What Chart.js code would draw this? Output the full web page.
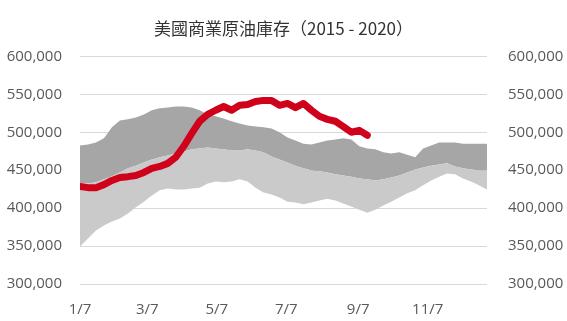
<!DOCTYPE html>
<html>
<head>
<meta charset="utf-8">
<script src="https://cdn.jsdelivr.net/npm/chart.js@4"></script>
<style>
  html, body { margin: 0; padding: 0; background: #fff; }
  #wrap { width: 567px; height: 321px; }
</style>
</head>
<body>
<div id="wrap"><canvas id="stockChart" width="567" height="321"></canvas></div>
<script>
// weekly commercial crude stocks, week 0 = 1/7
const rangeMax = [482500, 484000, 486500, 492000, 506500, 515500, 517000, 519500, 523500, 529000,
    531500, 532500, 534000, 534000, 532500, 529000, 523500, 521000, 518000, 514500,
    511500, 509000, 507500, 506500, 505000, 500000, 493000, 489000, 485000, 484000,
    486500, 489000, 490500, 492000, 490500, 481500, 478500, 477500, 473500, 472000,
    473500, 470500, 467000, 478500, 482500, 486500, 486500, 486500, 485000, 485000,
    485000, 485000];
const rangeMid = [432500, 432500, 434000, 438000, 442000, 447000, 452500, 456000, 460000, 464000,
    467000, 469500, 472000, 474500, 477500, 478500, 480000, 478500, 477500, 476000,
    476000, 477500, 476000, 473500, 468000, 464000, 460000, 456000, 452500, 449500,
    448500, 447000, 444500, 443000, 441500, 439000, 438000, 436500, 438000, 440500,
    443000, 447000, 451000, 453500, 456000, 457500, 459000, 455000, 452500, 451000,
    449500, 449500];
const rangeMin = [349500, 360000, 370500, 377000, 382500, 386500, 393000, 401000, 408500, 416500,
    423500, 426000, 424500, 424500, 426000, 427000, 432500, 435000, 434000, 435000,
    438000, 435000, 427000, 420500, 418000, 414000, 408500, 407500, 405000, 407500,
    410000, 412500, 410000, 406000, 402000, 398000, 394000, 398000, 403500, 408500,
    414000, 419500, 423500, 430000, 436500, 441500, 445500, 444500, 439000, 435000,
    430000, 424500];
const stocks2020 = [428500, 427000, 427000, 431000, 436500, 440500, 441500, 443000, 447000, 452500,
    455000, 459000, 467000, 481500, 498500, 514500, 523500, 529000, 534000, 529000,
    535500, 536500, 540500, 542000, 542000, 535500, 538000, 532500, 538000, 529000,
    521000, 517000, 514500, 507500, 500000, 502500, 496000];

// tick labels and their day offsets from 1/7
const tickDays = [0, 59, 120, 181, 244, 305];
const tickLabels = ['1/7', '3/7', '5/7', '7/7', '9/7', '11/7'];

const toPoints = arr => arr.map((v, i) => ({ x: i * 7, y: v }));

const labelFont = { family: '"Open Sans", "Noto Sans", sans-serif', size: 15 };
const fmt = v => v.toLocaleString('en-US');

const ctx = document.getElementById('stockChart').getContext('2d');
new Chart(ctx, {
    type: 'line',
    data: {
        datasets: [
            {
                label: '2020',
                data: toPoints(stocks2020),
                borderColor: '#d0021b',
                borderWidth: 7,
                borderCapStyle: 'round',
                borderJoinStyle: 'round',
                pointRadius: 0,
                fill: false,
            },
            {
                label: 'min',
                data: toPoints(rangeMin),
                borderWidth: 0,
                borderColor: 'rgba(0,0,0,0)',
                pointRadius: 0,
                fill: false,
            },
            {
                label: 'mid',
                data: toPoints(rangeMid),
                borderWidth: 0,
                borderColor: 'rgba(0,0,0,0)',
                backgroundColor: '#cacaca',
                pointRadius: 0,
                fill: '-1',
            },
            {
                label: 'max',
                data: toPoints(rangeMax),
                borderWidth: 0,
                borderColor: 'rgba(0,0,0,0)',
                backgroundColor: '#a6a6a6',
                pointRadius: 0,
                fill: '-1',
            },
        ],
    },
    options: {
        responsive: false,
        animation: false,
        layout: { padding: 0 },
        elements: { line: { tension: 0 } },
        plugins: {
            legend: { display: false },
            tooltip: { enabled: false },
            title: {
                display: true,
                text: '美國商業原油庫存（2015 - 2020）',
                color: '#333333',
                font: { family: '"Noto Sans CJK TC", sans-serif', size: 17, weight: 'normal' },
                padding: { top: 18, bottom: 18 },
            },
        },
        scales: {
            x: {
                type: 'linear',
                min: 0,
                max: 357,
                grid: { display: false },
                border: { display: false },
                afterBuildTicks: scale => { scale.ticks = tickDays.map(v => ({ value: v })); },
                afterFit: scale => { scale.height = 37; },
                ticks: {
                    autoSkip: false,
                    maxRotation: 0,
                    padding: 9,
                    color: '#595959',
                    font: labelFont,
                    callback: v => tickLabels[tickDays.indexOf(v)],
                },
            },
            y: {
                position: 'left',
                min: 300000,
                max: 600000,
                grid: { color: '#d9d9d9', drawTicks: false },
                border: { display: false },
                afterFit: scale => { scale.width = 80; },
                ticks: { stepSize: 50000, padding: 18, color: '#595959', font: labelFont, callback: fmt },
            },
            y2: {
                position: 'right',
                min: 300000,
                max: 600000,
                grid: { display: false },
                border: { display: false },
                afterFit: scale => { scale.width = 80; },
                ticks: { stepSize: 50000, padding: 13, color: '#595959', font: labelFont, callback: fmt },
            },
        },
    },
});
</script>
</body>
</html>
